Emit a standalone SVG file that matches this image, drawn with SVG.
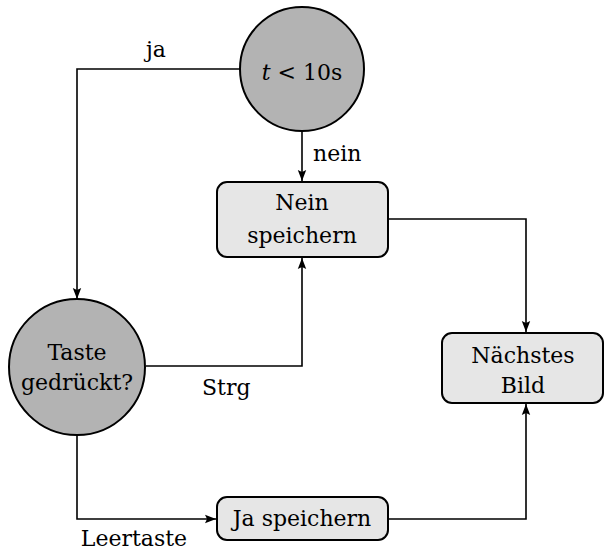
<svg xmlns="http://www.w3.org/2000/svg" width="605" height="551" viewBox="0 0 605 551">
  <style>
    .dec { fill: #b3b3b3; stroke: #000; stroke-width: 2; }
    .box { fill: #e6e6e6; stroke: #000; stroke-width: 2; }
    .lbl { font-family: "DejaVu Serif", "Liberation Serif", serif; font-size: 22px; fill: #000; }
    .mid { text-anchor: middle; }
    .edge { fill: none; stroke: #000; stroke-width: 1.6; marker-end: url(#arr); }
  </style>
  <defs>
    <!-- filled arrowhead with a slightly concave back -->
    <marker id="arr" viewBox="0 0 11 10" refX="11" refY="5" markerWidth="11" markerHeight="10" markerUnits="userSpaceOnUse" orient="auto">
      <path d="M0,0.8 L11,5 L0,9.2 L2,5 Z" fill="#000"/>
    </marker>
  </defs>

  <g id="connectors">
    <path class="edge" d="M241,69 H77 V299"/>
    <path class="edge" d="M302,131 V181"/>
    <path class="edge" d="M388,219 H526 V332"/>
    <path class="edge" d="M146,366 H302 V258"/>
    <path class="edge" d="M77,435 V519 H216"/>
    <path class="edge" d="M388,519 H526 V404"/>
    <text class="lbl mid" x="156" y="57">ja</text>
    <text class="lbl" x="313" y="161">nein</text>
    <text class="lbl" x="202" y="395">Strg</text>
    <text class="lbl mid" x="134" y="546">Leertaste</text>
  </g>

  <g id="timer">
    <circle class="dec" cx="302" cy="69" r="62"/>
    <text class="lbl mid" x="302" y="80"><tspan font-style="italic">t</tspan> &lt; 10s</text>
  </g>

  <g id="nein-speichern">
    <rect class="box" x="217" y="182" width="171" height="75" rx="10"/>
    <text class="lbl mid" x="302" y="210">Nein</text>
    <text class="lbl mid" x="302" y="243">speichern</text>
  </g>

  <g id="taste">
    <circle class="dec" cx="77" cy="367" r="68"/>
    <text class="lbl mid" x="77" y="360">Taste</text>
    <text class="lbl mid" x="77" y="390">gedrückt?</text>
  </g>

  <g id="naechstes-bild">
    <rect class="box" x="442" y="333" width="161" height="70" rx="10"/>
    <text class="lbl mid" x="523" y="363">Nächstes</text>
    <text class="lbl mid" x="523" y="393">Bild</text>
  </g>

  <g id="ja-speichern">
    <rect class="box" x="217" y="497" width="171" height="43" rx="10"/>
    <text class="lbl mid" x="302" y="526">Ja speichern</text>
  </g>
</svg>
